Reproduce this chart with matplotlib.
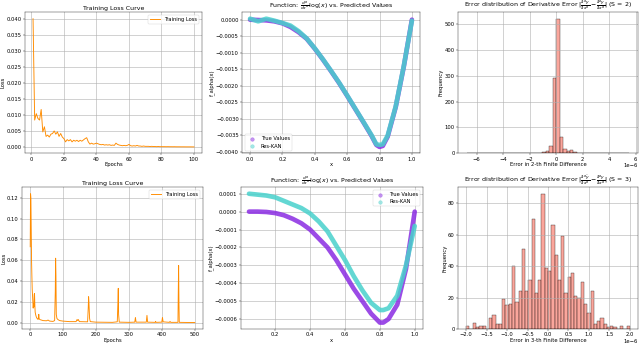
import matplotlib
matplotlib.use("Agg")
import matplotlib.pyplot as plt
import numpy as np

# ---- training loss, S = 2 (epochs 1..100) ----
loss_a = [
    0.0400, 0.0084, 0.0104, 0.0089, 0.0084, 0.0117, 0.0047, 0.0063, 0.0033, 0.0037,
    0.0031, 0.0040, 0.0042, 0.0050, 0.0040, 0.0047, 0.0033, 0.0042, 0.0031, 0.0026,
    0.0016, 0.0023, 0.0019, 0.0023, 0.0016, 0.0021, 0.0018, 0.0021, 0.0017, 0.0021,
    0.0018, 0.0022, 0.0026, 0.0029, 0.0016, 0.0009, 0.0012, 0.0009, 0.0010, 0.0012,
    0.0010, 0.0008, 0.0007, 0.0008, 0.0006, 0.0007, 0.0006, 0.0007, 0.0005, 0.0006,
    0.0005, 0.0012, 0.0008, 0.0006, 0.0005, 0.0004, 0.0005, 0.0004, 0.0005, 0.0008,
    0.0004, 0.0003, 0.0004, 0.0003, 0.0005, 0.0003, 0.0003, 0.0002, 0.0003, 0.0002,
    0.0002, 0.0002, 0.00015, 0.0002, 0.00015, 0.00015, 0.0001, 0.00015, 0.0001, 0.0001,
    0.0001, 0.0001, 0.00008, 0.0001, 0.00008, 0.00008, 0.00007, 0.00008, 0.00006, 0.00006,
    0.00006, 0.00005, 0.00005, 0.00005, 0.00004, 0.00004, 0.00004, 0.00004, 0.00003, 0.00003,
]
epochs_a = list(range(1, len(loss_a) + 1))

# ---- training loss, S = 3 (key epochs) ----
epochs_b = [1, 2, 3, 4, 5, 6, 7, 8, 9, 10, 11, 12, 13, 14, 15, 16, 18, 20, 22, 25,
            27, 28, 30, 35, 40, 50, 55, 60, 70, 75, 77, 78, 79, 80, 82, 85, 90, 100,
            120, 140, 143, 145, 147, 150, 175, 177, 178, 179, 181, 183, 200, 250, 265,
            267, 268, 269, 271, 300, 318, 320, 322, 353, 355, 357, 380, 381, 383, 400,
            402, 404, 423, 425, 427, 449, 450, 451, 452, 453, 475, 500]
loss_b = [0.073, 0.124, 0.120, 0.090, 0.060, 0.045, 0.032, 0.026, 0.020, 0.014,
          0.018, 0.015, 0.027, 0.028, 0.017, 0.010, 0.007, 0.005, 0.004, 0.003,
          0.008, 0.004, 0.003, 0.0025, 0.002, 0.0018, 0.0025, 0.0015, 0.0012, 0.002,
          0.030, 0.062, 0.045, 0.008, 0.004, 0.003, 0.002, 0.0015,
          0.001, 0.001, 0.003, 0.002, 0.003, 0.001, 0.0008, 0.015, 0.025, 0.020,
          0.004, 0.001, 0.0005, 0.0003, 0.0008,
          0.020, 0.033, 0.008, 0.0005, 0.0003, 0.0005, 0.005, 0.0005, 0.0005, 0.007,
          0.0005, 0.0003, 0.0012, 0.0003, 0.0005,
          0.005, 0.0008, 0.0003, 0.0012, 0.0003, 0.0003, 0.030, 0.055, 0.020, 0.0003,
          0.0002, 0.0001]

# ---- function vs prediction, S = 2 ----
x_a = [0.0, 0.05, 0.1, 0.15, 0.2, 0.25, 0.3, 0.35, 0.4, 0.45, 0.5, 0.55, 0.6, 0.65,
       0.7, 0.75, 0.78, 0.8, 0.82, 0.85, 0.9, 0.95, 1.0]
true_a = [0.0, -0.00001, -0.00002, -0.00005, -0.00011, -0.00022, -0.00038, -0.00058,
          -0.00088, -0.00121, -0.00156, -0.00192, -0.00231, -0.00271, -0.00311,
          -0.00352, -0.00380, -0.00386, -0.00383, -0.00355, -0.00265, -0.00142, 0.0]
pred_a = [0.00003, -0.00005, 0.00003, -0.00003, -0.0001, -0.00018, -0.00035, -0.00057,
          -0.00087, -0.0012, -0.00155, -0.00191, -0.0023, -0.0027, -0.0031, -0.0035,
          -0.00378, -0.0038, -0.00378, -0.00352, -0.00263, -0.0014, -0.00003]

# ---- function vs prediction, S = 3 ----
x_b = [0.05, 0.1, 0.15, 0.2, 0.25, 0.3, 0.35, 0.4, 0.45, 0.5, 0.55, 0.6, 0.65, 0.7,
       0.75, 0.8, 0.82, 0.85, 0.9, 0.95, 1.0]
true_b = [0.0, 0.0, -0.000002, -0.000008, -0.00002, -0.00004, -0.000065, -0.0001,
          -0.00015, -0.0002, -0.00027, -0.00035, -0.00043, -0.0005, -0.00057,
          -0.00062, -0.00062, -0.0006, -0.00052, -0.00032, 0.0]
pred_b = [0.0001, 0.000095, 0.00009, 0.00008, 0.00006, 0.00004, 0.00002, -0.00001,
          -0.000055, -0.00011, -0.00019, -0.00027, -0.00036, -0.00044, -0.00051,
          -0.00055, -0.00055, -0.00054, -0.00047, -0.0003, -0.00008]

# ---- error histograms (counts per bin) ----
hist_a_range = (-6.76e-6, 5.46e-6)
hist_a_counts = [1, 0, 0, 0, 0, 0, 0, 0, 0, 0,
                 0, 0, 0, 0, 0, 0, 1, 1, 1, 2,
                 3, 3, 4, 10, 27, 293, 520, 65, 18, 8,
                 12, 5, 3, 2, 2, 1, 2, 1, 1, 0,
                 1, 0, 0, 0, 0, 0, 1]
hist_b_range = (-2.0e-6, 2.0e-6)
hist_b_counts = [2, 0, 4, 1, 2, 2, 0, 7, 9, 3,
                 3, 19, 15, 16, 40, 17, 24, 51, 24, 31,
                 70, 23, 31, 86, 39, 37, 66, 47, 31, 59,
                 23, 33, 36, 21, 20, 30, 16, 10, 24, 3,
                 5, 7, 3, 1, 2, 1, 0, 2, 0, 2]

loss_color = "darkorange"
true_color = "blueviolet"
pred_color = "mediumturquoise"
bar_color = "salmon"

plt.rcParams.update({
    "font.size": 11.5,
    "axes.titlesize": 13.5,
    "axes.labelsize": 11.5,
    "xtick.labelsize": 11.5,
    "ytick.labelsize": 11.5,
    "legend.fontsize": 11,
    "axes.labelpad": 2,
})

W, H = 640, 344
DPI = 100 / 3
fig = plt.figure(figsize=(W / DPI, H / DPI), dpi=DPI)


def add_ax(x0, y0, x1, y1):
    return fig.add_axes([x0 / W, 1 - y1 / H, (x1 - x0) / W, (y1 - y0) / H])


def style(ax):
    ax.grid(True, linewidth=2, alpha=0.6)


def loss_panel(ax, ep, loss):
    ax.plot(ep, loss, color=loss_color, lw=2, label="Training Loss")
    ax.set_title("Training Loss Curve")
    ax.set_xlabel("Epochs")
    ax.set_ylabel("Loss")
    ax.legend(loc="upper right")
    style(ax)


def func_panel(ax, x, true, pred, legend_loc):
    ax.plot(x, true, color=true_color, lw=10, alpha=0.85, solid_capstyle="round")
    ax.plot(x, pred, color=pred_color, lw=10, alpha=0.85, solid_capstyle="round")
    ax.scatter([], [], color=true_color, alpha=0.5, s=60, label="True Values")
    ax.scatter([], [], color=pred_color, alpha=0.5, s=60, label="Res-KAN")
    ax.set_title(r"Function: $\frac{d^{\alpha}}{dx^{\alpha}}\log(x)$ vs. Predicted Values")
    ax.set_xlabel("x")
    ax.set_ylabel("f_alpha(x)")
    ax.legend(loc=legend_loc)
    style(ax)


def hist_panel(ax, rng, counts, s):
    edges = np.linspace(rng[0], rng[1], len(counts) + 1)
    ax.bar(edges[:-1], counts, width=np.diff(edges), align="edge",
           color=bar_color, edgecolor="black", alpha=0.7)
    ax.set_title(r"Error distribution of Derivative Error "
                 r"$|\frac{\partial^{\alpha}\hat{y}}{\partial x^{\alpha}} - "
                 r"\frac{\partial^{\alpha}y}{\partial x^{\alpha}}|$ (S = %d)" % s)
    ax.set_xlabel("Error in %d-th Finite Difference" % s)
    ax.set_ylabel("Frequency")
    style(ax)


ax1 = add_ax(25, 12.3, 202, 153.3)
loss_panel(ax1, epochs_a, loss_a)
ax2 = add_ax(242, 12.3, 420, 153.3)
func_panel(ax2, x_a, true_a, pred_a, "lower left")
ax3 = add_ax(458, 12.3, 638, 153.3)
hist_panel(ax3, hist_a_range, hist_a_counts, 2)
ax3.set_xlim(-7.41e-6, 6.17e-6)

ax4 = add_ax(22, 187.3, 203, 329)
loss_panel(ax4, epochs_b, loss_b)
ax5 = add_ax(240.7, 187.3, 423, 329)
func_panel(ax5, x_b, true_b, pred_b, "upper right")
ax6 = add_ax(458, 187.3, 638, 329)
hist_panel(ax6, hist_b_range, hist_b_counts, 3)

fig.savefig("out.png", dpi=DPI)
